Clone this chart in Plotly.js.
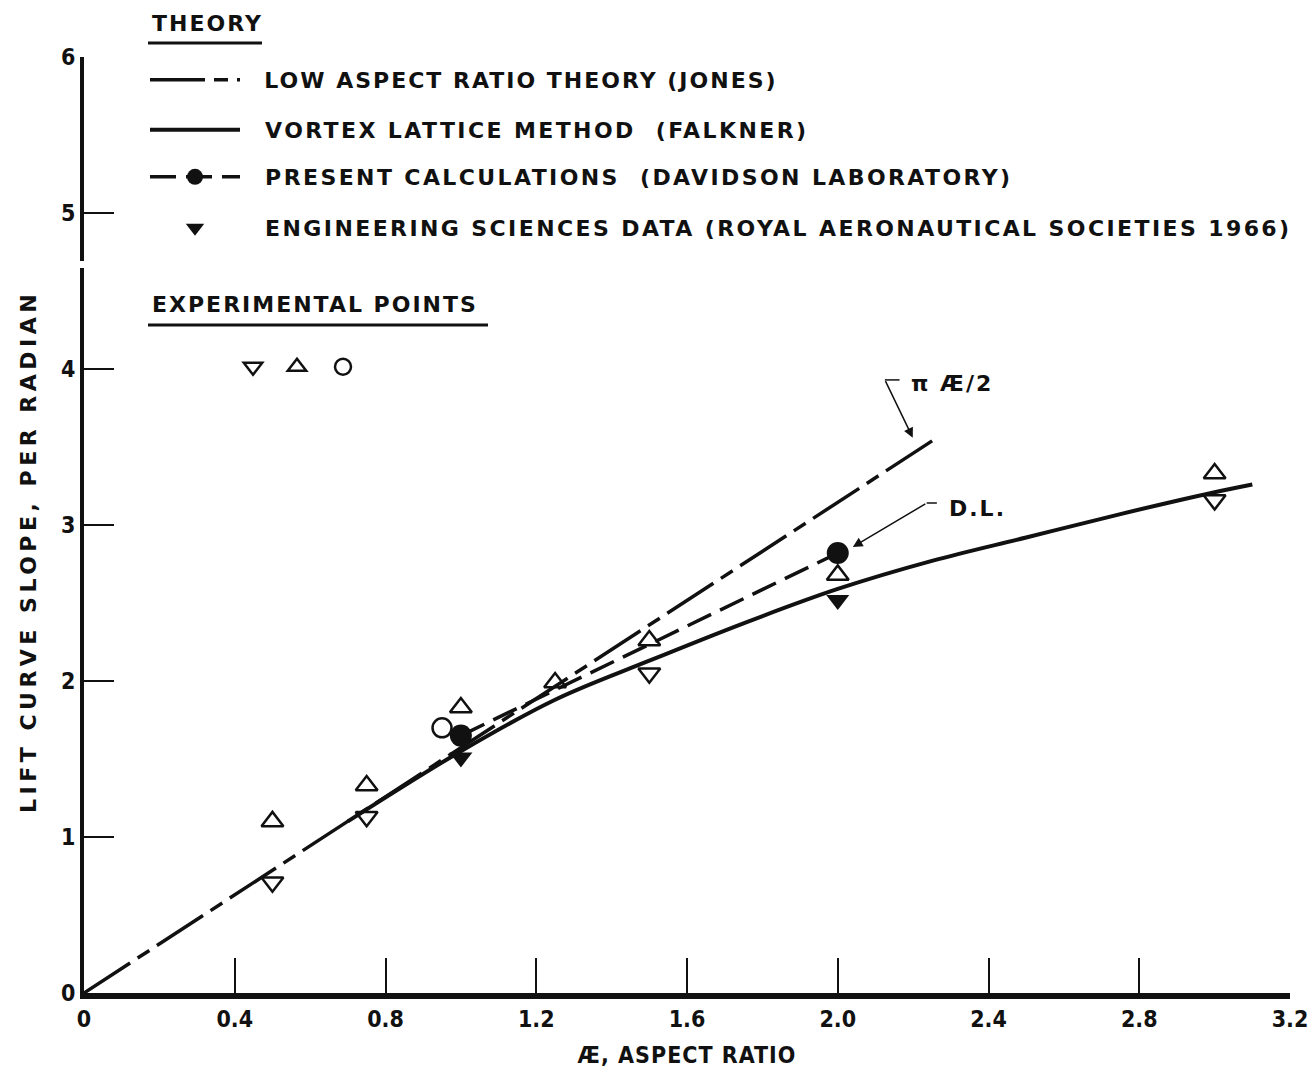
<!DOCTYPE html>
<html>
<head>
<meta charset="utf-8">
<script src="https://cdn.plot.ly/plotly-3.0.1.min.js"></script>
<style>
  html, body { margin: 0; padding: 0; background: #fff; }
  #chart { width: 1312px; height: 1071px; }
  .legendtext { letter-spacing: 2px; }
  .legend2text, .legend3text, .legend4text { letter-spacing: 2.4px; }
  .annotation-text { letter-spacing: 2px; }
  .annotation[data-index="0"] .annotation-text { letter-spacing: 4.5px; }
  .xtitle { letter-spacing: 1px; }
</style>
</head>
<body>
<div id="chart"></div>
<script>
// ---- data ----
const xTickVals = [0, 0.4, 0.8, 1.2, 1.6, 2.0, 2.4, 2.8, 3.2];
const xTickText = ["0", "0.4", "0.8", "1.2", "1.6", "2.0", "2.4", "2.8", "3.2"];
const yTickVals = [0, 1, 2, 3, 4, 5, 6];
const yTickText = ["0", "1", "2", "3", "4", "5", "6"];

// Low aspect ratio theory (Jones), pi*AR/2
const jonesX = [0, 2.27];
const jonesY = [0, 3.57];

// Vortex lattice method (Falkner)
const vortexX = [0.70, 1.00, 1.25, 1.50, 1.75, 2.00, 2.25, 2.50, 2.75, 3.00, 3.10];
const vortexY = [1.10, 1.55, 1.88, 2.13, 2.37, 2.59, 2.77, 2.92, 3.07, 3.21, 3.26];

// Present calculations (Davidson Laboratory)
const dlX = [1.0, 2.0];
const dlY = [1.65, 2.82];

// Engineering Sciences Data (RAeS 1966)
const esdX = [1.0, 2.0];
const esdY = [1.51, 2.52];

// Experimental points
const expDownX = [0.5, 0.75, 1.5, 3.0];
const expDownY = [0.71, 1.13, 2.05, 3.16];
const expUpX = [0.5, 0.75, 1.0, 1.25, 1.5, 2.0, 3.0];
const expUpY = [1.10, 1.33, 1.83, 1.99, 2.26, 2.68, 3.33];
const expCircX = [0.95];
const expCircY = [1.70];

const names = {
  jones: "LOW ASPECT RATIO THEORY (JONES)",
  vortex: "VORTEX LATTICE METHOD  (FALKNER)",
  dl: "PRESENT CALCULATIONS  (DAVIDSON LABORATORY)",
  esd: "ENGINEERING SCIENCES DATA (ROYAL AERONAUTICAL SOCIETIES 1966)"
};
const yTitle = "LIFT CURVE SLOPE, PER RADIAN";
const xTitle = "Æ, ASPECT RATIO";

// ---- styling ----
const W = 1312, H = 1071;
const FONT = "DejaVu Sans, sans-serif";
const NARROW = "DejaVu Sans Condensed, DejaVu Sans, sans-serif";
const INK = "#111";
const PAD = "\u00a0\u00a0";

function leg(xpx, ypx, iw) {
  return {
    x: xpx / W, y: 1 - ypx / H, xref: "container", yref: "container",
    xanchor: "left", yanchor: "middle", orientation: "v",
    itemwidth: iw, bgcolor: "rgba(0,0,0,0)", borderwidth: 0,
    font: {family: FONT, size: 22, color: INK, weight: "bold"},
    itemclick: false, itemdoubleclick: false
  };
}

const traces = [
  {x: jonesX, y: jonesY, mode: "lines", name: PAD + names.jones, legend: "legend",
   line: {color: INK, width: 3.5, dash: "55px,9px,14px,9px"}},
  {x: vortexX, y: vortexY, mode: "lines", name: PAD + names.vortex, legend: "legend2",
   line: {color: INK, width: 4, shape: "spline", smoothing: 1}},
  {x: dlX, y: dlY, mode: "lines+markers", name: PAD + names.dl, legend: "legend3",
   line: {color: INK, width: 3.5, dash: "26px,10px"},
   marker: {symbol: "circle", size: 22, color: INK}},
  {x: esdX, y: esdY, mode: "markers", name: PAD + names.esd, legend: "legend4",
   marker: {symbol: "triangle-down", size: 20, color: INK}},
  {x: expDownX, y: expDownY, mode: "markers", name: "", legend: "legend5",
   marker: {symbol: "triangle-down-open", size: 19, color: INK, line: {width: 2.5, color: INK}}},
  {x: expUpX, y: expUpY, mode: "markers", name: "", legend: "legend6",
   marker: {symbol: "triangle-up-open", size: 19, color: INK, line: {width: 2.5, color: INK}}},
  {x: expCircX, y: expCircY, mode: "markers", name: "", legend: "legend7",
   marker: {symbol: "circle-open", size: 19, color: INK, line: {width: 2.5, color: INK}}}
];

const annFont = {family: FONT, size: 22, color: INK, weight: "bold"};

const layout = {
  width: W, height: H,
  paper_bgcolor: "#fff", plot_bgcolor: "#fff",
  margin: {l: 84, r: 22, t: 57, b: 78, pad: 0, autoexpand: false},
  showlegend: true,
  legend: leg(145, 80, 90),
  legend2: leg(145, 130, 90),
  legend3: leg(145, 177, 90),
  legend4: leg(145, 228, 90),
  legend5: leg(233, 367, 30),
  legend6: leg(277, 367, 30),
  legend7: leg(323, 367, 30),
  xaxis: {
    range: [0, 3.2], tickmode: "array", tickvals: xTickVals, ticktext: xTickText,
    ticks: "inside", ticklen: 35, tickwidth: 2, tickcolor: INK, tickangle: 0,
    showline: true, linewidth: 6, linecolor: INK, showgrid: false, zeroline: false,
    tickfont: {family: NARROW, size: 23, color: INK, weight: "bold"},
    title: {text: xTitle, font: {family: NARROW, size: 23, color: INK, weight: "bold"}, standoff: 18},
    automargin: false, fixedrange: true
  },
  yaxis: {
    range: [0, 6], tickmode: "array", tickvals: yTickVals, ticktext: yTickText,
    ticks: "inside", ticklen: 30, tickwidth: 2.5, tickcolor: INK,
    showline: true, linewidth: 4, linecolor: INK, showgrid: false, zeroline: false,
    tickfont: {family: NARROW, size: 23, color: INK, weight: "bold"},
    automargin: false, fixedrange: true
  },
  annotations: [
    {xref: "paper", yref: "paper", x: (28 - 84) / 1206, y: (993 - 552) / 936,
     xanchor: "center", yanchor: "middle", textangle: -90, text: yTitle, showarrow: false, font: annFont},
    {xref: "paper", yref: "paper", x: (150 - 84) / 1206, y: (993 - 24) / 936,
     xanchor: "left", yanchor: "middle", text: "THEORY", showarrow: false, font: annFont},
    {xref: "paper", yref: "paper", x: (150 - 84) / 1206, y: (993 - 305) / 936,
     xanchor: "left", yanchor: "middle", text: "EXPERIMENTAL POINTS", showarrow: false, font: annFont},
    {xref: "x", yref: "y", x: 2.19, y: 3.91, xanchor: "left", yanchor: "middle",
     text: "π Æ/2", showarrow: false, font: annFont},
    {xref: "x", yref: "y", x: 2.199, y: 3.56, text: "", showarrow: true,
     ax: -28, ay: -58, arrowhead: 2, arrowsize: 1.3, arrowwidth: 1.5, arrowcolor: INK, standoff: 0},
    {xref: "x", yref: "y", x: 2.289, y: 3.109, xanchor: "left", yanchor: "middle",
     text: "D.L.", showarrow: false, font: annFont},
    {xref: "x", yref: "y", x: 2.04, y: 2.859, text: "", showarrow: true,
     ax: 74, ay: -44, arrowhead: 2, arrowsize: 1.3, arrowwidth: 1.5, arrowcolor: INK, standoff: 0}
  ],
  shapes: [
    {type: "line", xref: "paper", yref: "paper", x0: (148 - 84) / 1206, x1: (262 - 84) / 1206,
     y0: (993 - 43) / 936, y1: (993 - 43) / 936, line: {color: INK, width: 3}},
    {type: "line", xref: "paper", yref: "paper", x0: (148 - 84) / 1206, x1: (488 - 84) / 1206,
     y0: (993 - 325) / 936, y1: (993 - 325) / 936, line: {color: INK, width: 3}},
    {type: "line", xref: "x", yref: "y", x0: 2.125, x1: 2.164, y0: 3.93, y1: 3.93,
     line: {color: INK, width: 1.5}},
    {type: "line", xref: "x", yref: "y", x0: 2.236, x1: 2.263, y0: 3.141, y1: 3.141,
     line: {color: INK, width: 1.5}},
    {type: "line", xref: "paper", yref: "paper", layer: "above", x0: -2 / 1206, x1: -2 / 1206,
     y0: (993 - 268) / 936, y1: (993 - 261) / 936, line: {color: "#fff", width: 8}}
  ]
};

Plotly.newPlot("chart", traces, layout, {staticPlot: true, displayModeBar: false});
</script>
</body>
</html>
